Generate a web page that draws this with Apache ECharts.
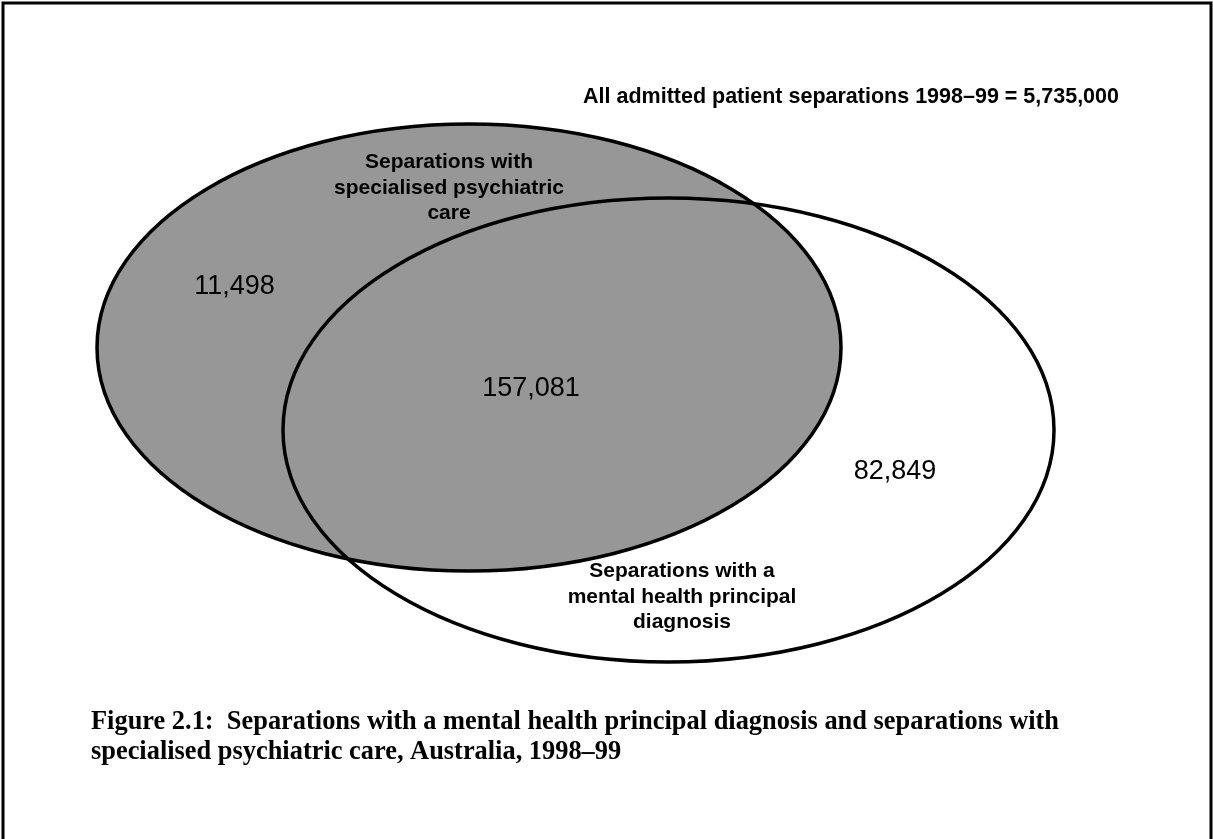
<!DOCTYPE html>
<html>
<head>
<meta charset="utf-8">
<script src="https://cdn.jsdelivr.net/npm/echarts@6/dist/echarts.min.js"></script>
<style>
  html,body{margin:0;padding:0;background:#fff;}
  #main{width:1213px;height:839px;}
</style>
</head>
<body>
<div id="main"></div>
<script>
// sets of the venn diagram (ellipse centre x, centre y, radius x, radius y, in diagram units)
var setNames = ['Separations with\nspecialised psychiatric\ncare', 'Separations with a\nmental health principal\ndiagnosis'];
var setCx = [469, 668.5];
var setCy = [347.5, 430];
var setRx = [372, 385.5];
var setRy = [223.5, 232];

// counts in each region: psychiatric only, both, mental health only
var regionNames = ['Psychiatric care only', 'Both', 'Mental health diagnosis only'];
var regionValues = [11498, 157081, 82849];

var totalLabel = 'All admitted patient separations 1998\u201399';
var totalValue = 5735000;

var caption = 'Figure 2.1:  Separations with a mental health principal diagnosis and separations with\nspecialised psychiatric care, Australia, 1998\u201399';

// where the texts sit
var regionPos = [[234.5, 287], [531, 389], [895, 472]];
var setLabelPos = [[449, 188], [682, 597]];

var myChart = echarts.init(document.getElementById('main'));

var ellipseData = [];
for (var i = 0; i < setNames.length; i++) {
	ellipseData.push([setCx[i], setCy[i], setRx[i], setRy[i], i]);
}
var regionData = [];
for (var i = 0; i < regionValues.length; i++) {
	regionData.push({name: regionNames[i], value: [regionPos[i][0], regionPos[i][1], regionValues[i]]});
}
var setLabelData = [];
for (var i = 0; i < setNames.length; i++) {
	setLabelData.push({name: setNames[i], value: setLabelPos[i]});
}

function fmt(n){
	return n.toLocaleString('en-US');
}

var option = {
	animation: false,
	backgroundColor: '#ffffff',
	grid: {left: 0, right: 0, top: 0, bottom: 0},
	xAxis: {type: 'value', min: 0, max: 1213, show: false},
	yAxis: {type: 'value', min: 0, max: 839, inverse: true, show: false},
	graphic: [
		{
			type: 'rect',
			shape: {x: 3, y: 3, width: 1208, height: 900},
			style: {fill: 'none', stroke: '#000', lineWidth: 3},
			silent: true
		},
		{
			type: 'text',
			x: 851, y: 97,
			style: {
				text: totalLabel + ' = ' + fmt(totalValue),
				fontFamily: '"Liberation Sans", Arial, sans-serif',
				fontWeight: 'bold',
				fontSize: 21.5,
				fill: '#000',
				align: 'center',
				verticalAlign: 'middle'
			}
		},
		{
			type: 'text',
			x: 91, y: 707,
			style: {
				text: caption,
				fontFamily: '"Liberation Serif", "Times New Roman", serif',
				fontWeight: 'bold',
				fontSize: 26.4,
				lineHeight: 30,
				fill: '#000',
				align: 'left',
				verticalAlign: 'top'
			}
		}
	],
	series: [
		{
			type: 'custom',
			coordinateSystem: 'cartesian2d',
			data: ellipseData,
			silent: true,
			renderItem: function(params, api){
				var c = api.coord([api.value(0), api.value(1)]);
				var s = api.size([api.value(2), api.value(3)]);
				var idx = api.value(4);
				return {
					type: 'ellipse',
					shape: {cx: c[0], cy: c[1], rx: s[0], ry: s[1]},
					style: {
						fill: idx == 0 ? '#979797' : 'none',
						stroke: '#000',
						lineWidth: 3.5
					}
				};
			}
		},
		{
			type: 'scatter',
			data: regionData,
			symbolSize: 0,
			silent: true,
			z: 5,
			itemStyle: {opacity: 1},
			label: {
				show: true,
				position: 'inside',
				formatter: function(p){ return fmt(p.value[2]); },
				fontFamily: '"Liberation Sans", Arial, sans-serif',
				fontSize: 27,
				color: '#000',
				textBorderWidth: 0
			}
		},
		{
			type: 'scatter',
			data: setLabelData,
			symbolSize: 0,
			silent: true,
			z: 5,
			itemStyle: {opacity: 1},
			label: {
				show: true,
				position: 'inside',
				formatter: '{b}',
				align: 'center',
				fontFamily: '"Liberation Sans", Arial, sans-serif',
				fontWeight: 'bold',
				fontSize: 21,
				lineHeight: 25.5,
				color: '#000',
				textBorderWidth: 0
			}
		}
	]
};
myChart.setOption(option);
</script>
</body>
</html>
